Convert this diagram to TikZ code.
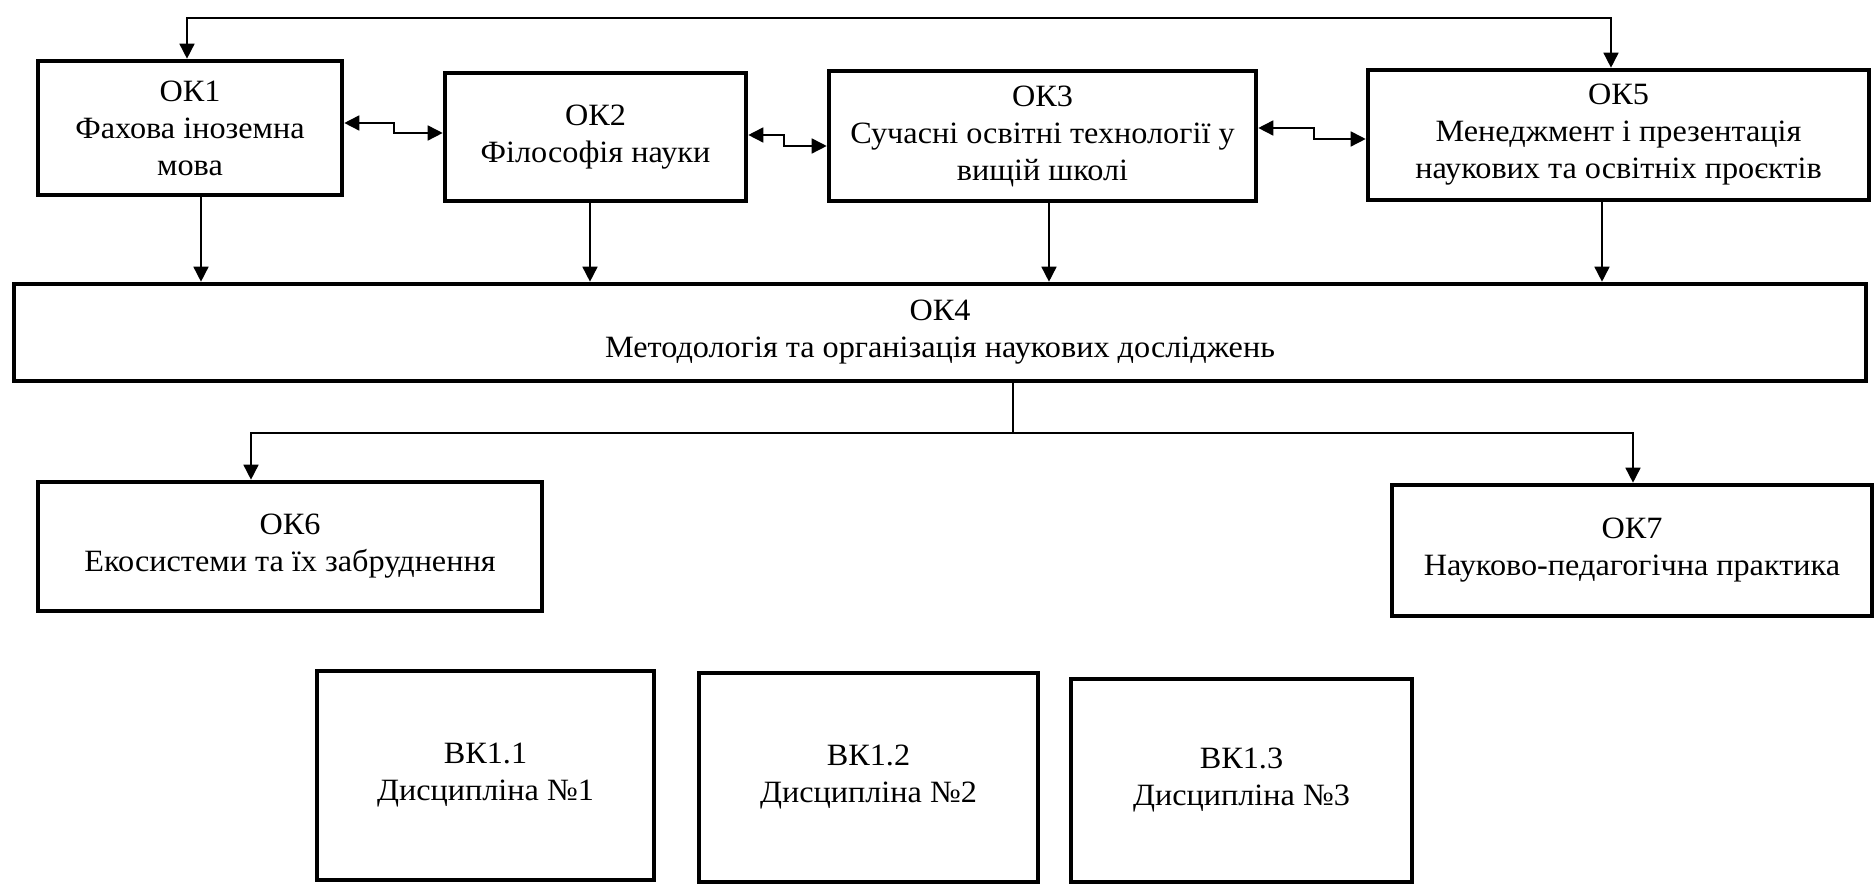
\documentclass[tikz,border=0pt]{standalone}
\usepackage{fontspec}
\setmainfont{Liberation Serif}[FakeStretch=1.04]
\usetikzlibrary{arrows.meta}
\begin{document}
\begin{tikzpicture}[x=0.5pt,y=-0.5pt,
  box/.style={draw=black, line width=2.3pt, inner sep=0pt, align=center,
    font=\fontsize{15.5}{18.5}\selectfont},
  conn/.style={draw=black, line width=0.8pt},
  tip/.style={-{Triangle[length=7.5pt,width=7.5pt]}},
  tips/.style={{Triangle[length=7.5pt,width=7.5pt]}-{Triangle[length=7.5pt,width=7.5pt]}}]
\useasboundingbox[fill=white] (0,0) rectangle (1876,886);

% boxes
\node[box, minimum width=304*0.5pt, minimum height=134*0.5pt] (ok1) at (190,128) {ОК1\\Фахова іноземна\\мова};
\node[box, minimum width=301*0.5pt, minimum height=128*0.5pt] (ok2) at (595.5,137) {ОК2\\Філософія науки};
\node[box, minimum width=427*0.5pt, minimum height=130*0.5pt] (ok3) at (1042.5,136) {ОК3\\Сучасні освітні технології у\\вищій школі};
\node[box, minimum width=501*0.5pt, minimum height=130*0.5pt] (ok5) at (1618.5,135) {ОК5\\Менеджмент і презентація\\наукових та освітніх проєктів};
\node[box, minimum width=1852*0.5pt, minimum height=97*0.5pt] (ok4) at (940,332.5) {ОК4\\Методологія та організація наукових досліджень};
\node[box, minimum width=504*0.5pt, minimum height=129*0.5pt] (ok6) at (290,546.5) {ОК6\\Екосистеми та їх забруднення};
\node[box, minimum width=480*0.5pt, minimum height=131*0.5pt] (ok7) at (1632,550.5) {ОК7\\Науково-педагогічна практика};
\node[box, minimum width=337*0.5pt, minimum height=209*0.5pt] (vk1) at (485.5,775.5) {ВК1.1\\Дисципліна №1};
\node[box, minimum width=339*0.5pt, minimum height=209*0.5pt] (vk2) at (868.5,777.5) {ВК1.2\\Дисципліна №2};
\node[box, minimum width=341*0.5pt, minimum height=203*0.5pt] (vk3) at (1241.5,780.5) {ВК1.3\\Дисципліна №3};

% helper coordinates
\coordinate (t1) at (187,18);
\coordinate (t5) at (1611,18);
\coordinate (d1) at (201,0);
\coordinate (d2) at (590,0);
\coordinate (d3) at (1049,0);
\coordinate (d5) at (1602,0);
\coordinate (sp) at (1013,433);
\coordinate (b6) at (251,433);
\coordinate (b7) at (1633,433);
\coordinate (a1) at (394,123);
\coordinate (a2) at (394,133);
\coordinate (c1) at (784,135);
\coordinate (c2) at (784,146);
\coordinate (e1) at (1314,128);
\coordinate (e2) at (1314,139);

% top connector OK1 <-> OK5
\draw[conn, tips] (t1 |- ok1.north) -- (t1) -- (t5) -- (t5 |- ok5.north);

% stepped double arrows
\draw[conn, tips] (ok1.east |- a1) -- (a1) -- (a2) -- (ok2.west |- a2);
\draw[conn, tips] (ok2.east |- c1) -- (c1) -- (c2) -- (ok3.west |- c2);
\draw[conn, tips] (ok3.east |- e1) -- (e1) -- (e2) -- (ok5.west |- e2);

% down to OK4
\draw[conn, tip] (d1 |- ok1.south) -- (d1 |- ok4.north);
\draw[conn, tip] (d2 |- ok2.south) -- (d2 |- ok4.north);
\draw[conn, tip] (d3 |- ok3.south) -- (d3 |- ok4.north);
\draw[conn, tip] (d5 |- ok5.south) -- (d5 |- ok4.north);

% OK4 to OK6 / OK7
\draw[conn] (sp |- ok4.south) -- (sp);
\draw[conn, tip] (sp) -- (b6) -- (b6 |- ok6.north);
\draw[conn, tip] (sp) -- (b7) -- (b7 |- ok7.north);
\end{tikzpicture}
\end{document}
